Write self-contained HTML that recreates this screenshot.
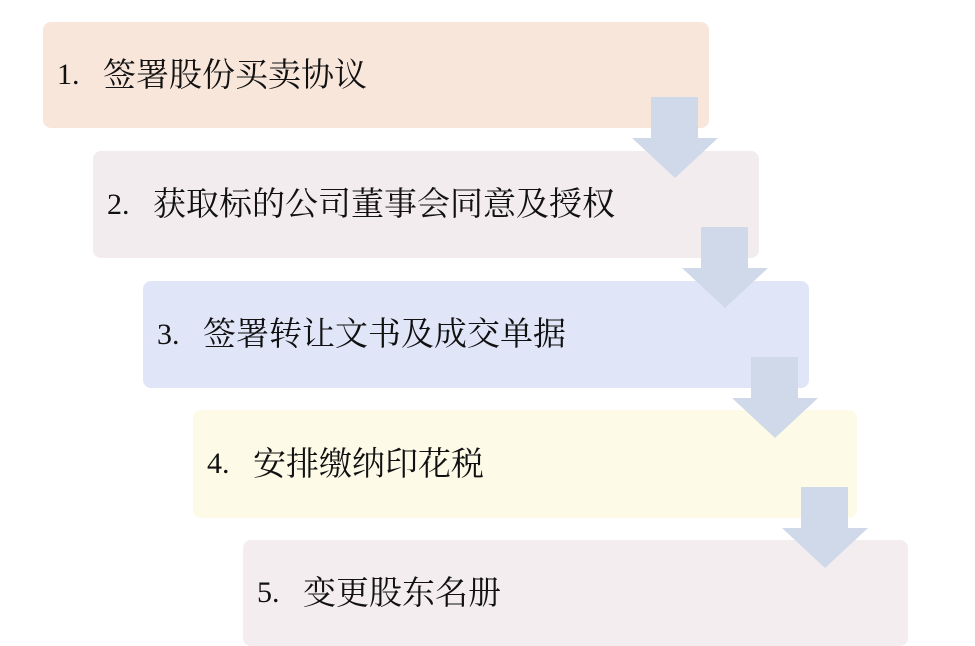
<!DOCTYPE html>
<html><head><meta charset="utf-8"><style>
body{margin:0;width:975px;height:635px;background:#fff;position:relative;overflow:hidden;font-family:"Liberation Serif","Noto Serif CJK SC",serif;}
.b{position:absolute;border-radius:8px;font-size:33px;color:#111;display:flex;align-items:center;padding-left:14px;box-sizing:border-box;}
.b span{display:inline-block;width:46px;font-size:30px;}
.b i{font-style:normal;position:relative;top:-3px;}
</style></head><body>
<div class="b" style="left:43px;top:22px;width:666px;height:106px;background:#f8e6db;"><span>1.</span><i>签署股份买卖协议</i></div>
<div class="b" style="left:93px;top:151px;width:666px;height:107px;background:#f2ecef;"><span>2.</span><i>获取标的公司董事会同意及授权</i></div>
<div class="b" style="left:143px;top:281px;width:666px;height:107px;background:#e1e5f8;"><span>3.</span><i>签署转让文书及成交单据</i></div>
<div class="b" style="left:193px;top:410px;width:664px;height:108px;background:#fdfbe8;"><span>4.</span><i>安排缴纳印花税</i></div>
<div class="b" style="left:243px;top:540px;width:665px;height:106px;background:#f4edf0;"><span>5.</span><i>变更股东名册</i></div>
<svg width="975" height="635" style="position:absolute;left:0;top:0">
<g fill="#cfd9e9">
<polygon points="651,97 698,97 698,138 718,138 675,178 632,138 651,138"/>
<polygon transform="translate(50,130)" points="651,97 698,97 698,138 718,138 675,178 632,138 651,138"/>
<polygon transform="translate(100,260)" points="651,97 698,97 698,138 718,138 675,178 632,138 651,138"/>
<polygon transform="translate(150,390)" points="651,97 698,97 698,138 718,138 675,178 632,138 651,138"/>
</g></svg>
</body></html>
